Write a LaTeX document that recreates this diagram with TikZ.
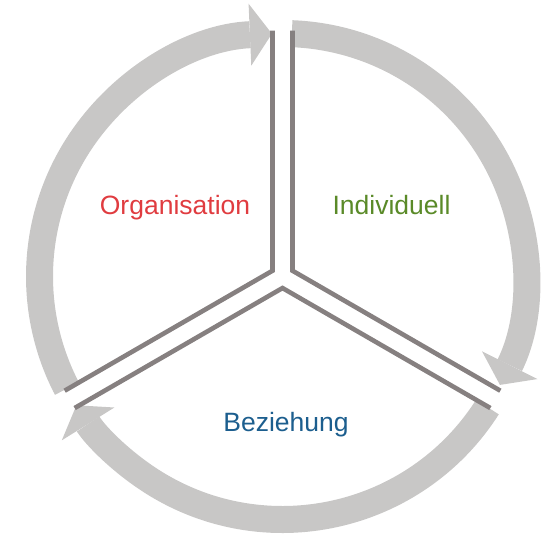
\documentclass[tikz,border=0pt]{standalone}
\usepackage{fontspec}
\setmainfont{Liberation Sans}
\usetikzlibrary{arrows.meta,calc}
\definecolor{arcgray}{RGB}{200,199,198}
\definecolor{spokegray}{RGB}{134,128,128}
\definecolor{orgred}{RGB}{224,60,64}
\definecolor{indgreen}{RGB}{90,138,40}
\definecolor{bezblue}{RGB}{28,94,142}
\tikzset{
  cyclearc/.style = {draw=arcgray, line width=27pt,
    -{Triangle[length=22pt,width=62pt,line width=0pt]}},
  spoke/.style = {draw=spokegray, line width=4.6pt, line join=miter},
  sectortext/.style = {anchor=base, inner sep=0pt,
    font=\fontsize{26.5}{30}\selectfont},
}

\begin{document}
\begin{tikzpicture}[x=1pt,y=1pt]
\useasboundingbox (0,0) rectangle (544,534);
\coordinate (c) at (282.5,257.5);
% start points of the three arrows
\coordinate (a1) at ($(c)+(207.5:243)$);
\coordinate (a2) at ($(c)+(87.8:243)$);
\coordinate (a3) at ($(c)+(-32.5:243)$);
\draw[cyclearc] (a1) arc[start angle=207.5, end angle=92.5, radius=243];
\draw[cyclearc] (a2) arc[start angle=87.8, end angle=-26.5, radius=243];
\draw[cyclearc] (a3) arc[start angle=-32.5, end angle=-148, radius=243];
% inner corners and outer ends of the dividers
\coordinate (jl) at ($(c)+(150:11.55)$);
\coordinate (jr) at ($(c)+(30:11.55)$);
\coordinate (jb) at ($(c)+(270:11.55)$);
\coordinate (tl) at ($(c)+(92.33:246)$);
\coordinate (tr) at ($(c)+(87.67:246)$);
\coordinate (lu) at ($(c)+(207.67:246)$);
\coordinate (ll) at ($(c)+(212.33:246)$);
\coordinate (ru) at ($(c)+(-27.67:246)$);
\coordinate (rl) at ($(c)+(-32.33:246)$);
\draw[spoke] (tl) -- (jl) -- (lu);
\draw[spoke] (tr) -- (jr) -- (ru);
\draw[spoke] (ll) -- (jb) -- (rl);
% sector names
\node[sectortext, text=orgred] (org) at (175,319) {Organisation};
\node[sectortext, text=indgreen] (ind) at (391.5,319) {Individuell};
\node[sectortext, text=bezblue] (bez) at (286,102) {Beziehung};
\end{tikzpicture}
\end{document}
